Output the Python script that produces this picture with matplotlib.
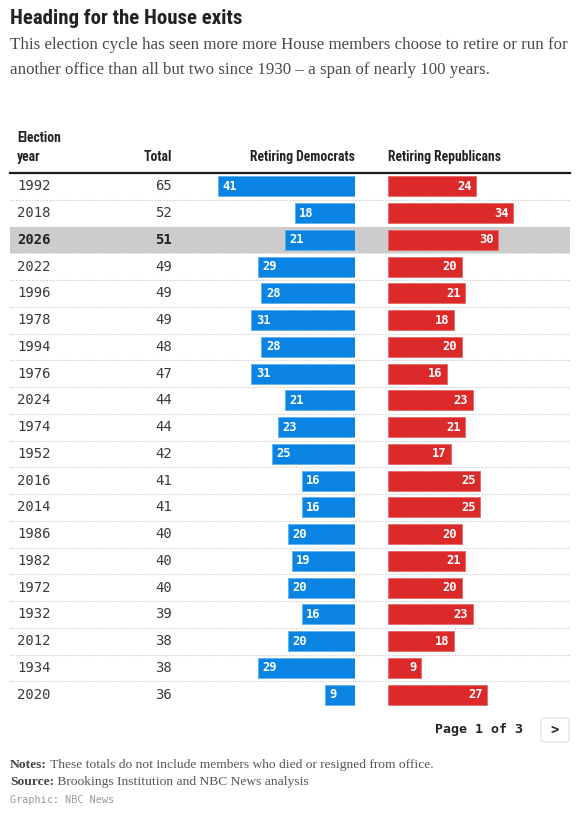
import matplotlib
matplotlib.use("Agg")
import matplotlib.pyplot as plt
from matplotlib.patches import FancyBboxPatch

# Table data (page 1 of 3)
years = ["1992", "2018", "2026", "2022", "1996", "1978", "1994", "1976", "2024", "1974",
         "1952", "2016", "2014", "1986", "1982", "1972", "1932", "2012", "1934", "2020"]
totals = [65, 52, 51, 49, 49, 49, 48, 47, 44, 44, 42, 41, 41, 40, 40, 40, 39, 38, 38, 36]
dems = [41, 18, 21, 29, 28, 31, 28, 31, 21, 23, 25, 16, 16, 20, 19, 20, 16, 20, 29, 9]
reps = [24, 34, 30, 20, 21, 18, 20, 16, 23, 21, 17, 25, 25, 20, 21, 20, 23, 18, 9, 27]
highlight = "2026"

title = "Heading for the House exits"
subtitle = ["This election cycle has seen more more House members choose to retire or run for",
            "another office than all but two since 1930 \u2013 a span of nearly 100 years."]
notes = ("Notes:", " These totals do not include members who died or resigned from office.")
source = ("Source:", " Brookings Institution and NBC News analysis")
credit = "Graphic: NBC News"

BLUE = "#0984e3"
RED = "#dc2a2a"
W, H = 584, 816
NARROW = ["Roboto Condensed", "Liberation Sans", "DejaVu Sans"]
SERIF = ["Liberation Serif", "DejaVu Serif"]
MONO = ["DejaVu Sans Mono"]


def fx(px):
    return px / W


def fy(py):
    return 1 - py / H


fig = plt.figure(figsize=(W / 100, H / 100), dpi=100)
fig.patch.set_facecolor("white")

top, bottom = 173, 708
n = len(years)
rect_y = fy(bottom)
rect_h = (bottom - top) / H

ax = fig.add_axes([0, rect_y, 1, rect_h])
ax.set_xlim(0, W)
ax.set_ylim(n - 0.5, -0.5)
ax.axis("off")

ax_d = fig.add_axes([fx(205), rect_y, fx(150), rect_h])
ax_r = fig.add_axes([fx(388), rect_y, fx(182), rect_h])
ax_d.set_xlim(150 / 3.34, 0)
ax_r.set_xlim(0, 182 / 3.68)
for a in (ax_d, ax_r):
    a.set_ylim(n - 0.5, -0.5)
    a.axis("off")
    a.patch.set_alpha(0)

# rows
for i, (yr, tot) in enumerate(zip(years, totals)):
    bold = yr == highlight
    if bold:
        ax.axhspan(i - 0.5, i + 0.5, xmin=fx(10), xmax=fx(570), color="#cccccc", lw=0, zorder=0)
    if i < n - 1:
        ax.plot([10, 570], [i + 0.5, i + 0.5], color="#c8c8c8", lw=0.8,
                linestyle=(0, (1.2, 1.5)), zorder=1)
    ax.text(17, i, yr, family=MONO, fontsize=10, color="#222" if bold else "#3a3a3a",
            fontweight="bold" if bold else "normal", ha="left", va="center")
    ax.text(172, i, str(tot), family=MONO, fontsize=10, color="#222" if bold else "#3a3a3a",
            fontweight="bold" if bold else "normal", ha="right", va="center")

ax.plot([10, 570], [-0.5, -0.5], color="#1a1a1a", lw=1.6, clip_on=False, zorder=3)

ypos = list(range(n))
ax_d.barh(ypos, dems, height=0.75, color=BLUE, edgecolor="#5fb0ef", lw=0.6)
ax_r.barh(ypos, reps, height=0.75, color=RED, edgecolor="#e86868", lw=0.6)
for i in range(n):
    ax_d.annotate(str(dems[i]), (dems[i], i), xytext=(3.2, 0), textcoords="offset points",
                  ha="left", va="center", color="white", family=MONO, fontsize=8.7,
                  fontweight="bold")
    ax_r.annotate(str(reps[i]), (reps[i], i), xytext=(-3.2, 0), textcoords="offset points",
                  ha="right", va="center", color="white", family=MONO, fontsize=8.7,
                  fontweight="bold")

# column headers
hdr = dict(family=NARROW, fontsize=9.8, fontweight="bold", color="#222", va="center")
fig.text(fx(17), fy(138), "Election", ha="left", **hdr)
fig.text(fx(17), fy(157), "year", ha="left", **hdr)
fig.text(fx(172), fy(157), "Total", ha="right", **hdr)
fig.text(fx(355), fy(157), "Retiring Democrats", ha="right", **hdr)
fig.text(fx(388), fy(157), "Retiring Republicans", ha="left", **hdr)

# title block
fig.text(fx(10), fy(18), title, family=NARROW, fontsize=15, fontweight="bold",
         color="#222", ha="left", va="center")
for k, line in enumerate(subtitle):
    fig.text(fx(10), fy(45 + 25 * k), line, family=SERIF, fontsize=12.15, color="#4a4a4a",
             ha="left", va="center")

# pager
fig.text(fx(523), fy(730), "Page 1 of 3", family=MONO, fontsize=9.5, fontweight="bold",
         color="#222", ha="right", va="center")
btn = FancyBboxPatch((fx(541), fy(742)), fx(28), 24 / H, boxstyle="round,pad=0,rounding_size=0.004",
                     transform=fig.transFigure, facecolor="white", edgecolor="#dddddd", lw=0.8)
fig.patches.append(btn)
fig.text(fx(555), fy(730), ">", family=MONO, fontsize=10, fontweight="bold", color="#222",
         ha="center", va="center")

# footnotes with bold lead-ins
renderer = fig.canvas.get_renderer()
for (lead, rest), py in ((notes, 765), (source, 782)):
    t = fig.text(fx(10), fy(py), lead, family=SERIF, fontsize=9.7, fontweight="bold",
                 color="#444", ha="left", va="center")
    bb = t.get_window_extent(renderer)
    fig.text(bb.x1 / W, fy(py), rest, family=SERIF, fontsize=9.7, color="#555",
             ha="left", va="center")
fig.text(fx(10), fy(800), credit, family=MONO, fontsize=7.3, color="#999999",
         ha="left", va="center")

fig.savefig("out.png", dpi=100, facecolor="white")
